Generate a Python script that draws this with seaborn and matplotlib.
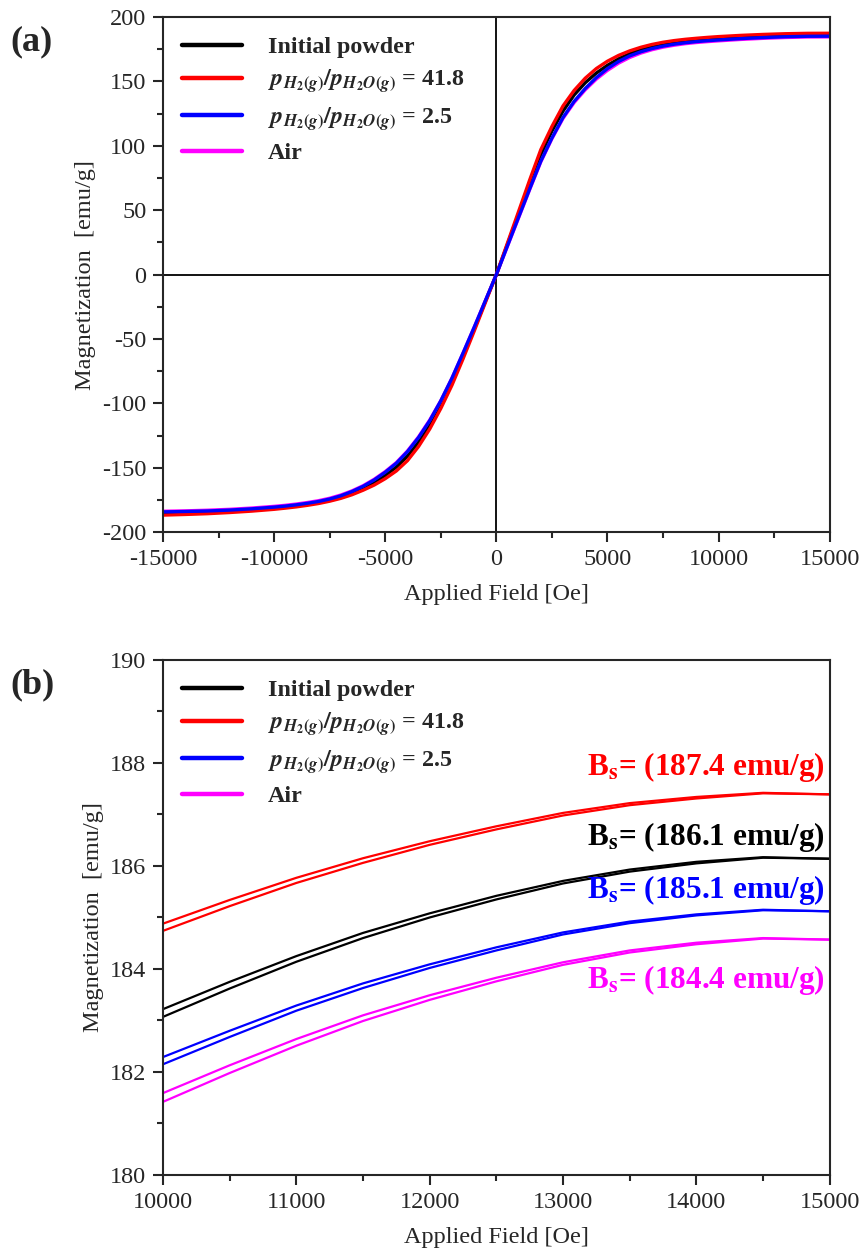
import numpy as np
import pandas as pd
import matplotlib
matplotlib.use("Agg")
import matplotlib.pyplot as plt
from matplotlib.lines import Line2D
from matplotlib.ticker import MultipleLocator
import seaborn as sns

# ---- panel (a): full loop, field in Oe, magnetization in emu/g
H_a = [-15000, -14000, -13000, -12000, -11000, -10000, -9500, -9000, -8500, -8000, -7500, -7000,
       -6500, -6000, -5500, -5000, -4500, -4000, -3500, -3000, -2500, -2000, -1500, -1000, -500,
       0, 500, 1000, 1500, 2000, 2500, 3000, 3500, 4000, 4500, 5000, 5500, 6000, 6500,
       7000, 7500, 8000, 8500, 9000, 9500, 10000, 11000, 12000, 13000, 14000, 15000]
M_init_a = [-185.5, -185.2, -184.7, -183.9, -182.8, -181.4, -180.6, -179.6, -178.4, -177.0, -175.1, -172.8,
            -169.8, -166.0, -161.5, -156.0, -149.5, -141.0, -130.0, -117.0, -101.0, -83.0, -63.0, -42.5, -21.0,
            0.0, 23.5, 47.0, 70.0, 93.0, 111.5, 127.0, 139.5, 149.0, 156.5, 162.5, 167.5, 171.5, 174.5,
            176.6, 178.3, 179.6, 180.75, 181.75, 182.5, 183.15, 184.2, 185.04, 185.69, 186.07, 186.14]
M_418_a = [-186.8, -186.3, -185.7, -184.8, -183.7, -182.3, -181.4, -180.4, -179.2, -177.8, -176.0, -173.8,
           -171.0, -167.5, -163.5, -158.5, -152.5, -144.5, -133.5, -120.0, -104.0, -86.0, -65.5, -44.0, -22.0,
           0.0, 24.5, 49.0, 73.5, 97.0, 115.0, 131.0, 143.0, 152.5, 160.0, 165.7, 170.2, 173.7, 176.5,
           178.7, 180.4, 181.7, 182.7, 183.5, 184.2, 184.8, 185.75, 186.48, 187.03, 187.34, 187.39]
M_25_a = [-184.3, -184.0, -183.6, -182.9, -181.9, -180.6, -179.8, -178.8, -177.6, -176.2, -174.3, -171.8,
          -168.5, -164.5, -159.5, -153.5, -146.5, -137.5, -126.5, -113.5, -98.0, -80.5, -61.0, -41.0, -20.5,
          0.0, 22.3, 44.5, 66.5, 88.0, 106.0, 122.0, 134.5, 144.5, 153.0, 160.0, 165.5, 169.8, 173.0,
          175.5, 177.4, 178.9, 180.0, 180.9, 181.6, 182.2, 183.24, 184.06, 184.69, 185.05, 185.12]
M_air_a = [-183.8, -183.5, -183.0, -182.3, -181.3, -180.0, -179.2, -178.2, -177.0, -175.6, -173.7, -171.2,
           -168.0, -164.0, -159.0, -153.0, -146.0, -137.0, -126.0, -113.0, -98.0, -80.5, -61.0, -41.0, -20.5,
           0.0, 22.0, 44.0, 66.0, 87.5, 105.5, 121.3, 133.6, 143.5, 151.8, 158.6, 164.2, 168.6, 172.0,
           174.6, 176.6, 178.1, 179.3, 180.2, 180.9, 181.5, 182.6, 183.45, 184.1, 184.5, 184.57]

# ---- panel (b): high-field zoom, two branches per sample
H_b = [10000, 10500, 11000, 11500, 12000, 12500, 13000, 13500, 14000, 14500, 15000]
init_up = [183.22, 183.75, 184.25, 184.70, 185.08, 185.42, 185.71, 185.93, 186.08, 186.17, 186.14]
init_dn = [183.07, 183.62, 184.14, 184.60, 185.00, 185.35, 185.66, 185.89, 186.05, 186.16, 186.14]
r418_up = [184.88, 185.34, 185.77, 186.15, 186.48, 186.77, 187.03, 187.22, 187.34, 187.42, 187.39]
r418_dn = [184.74, 185.22, 185.67, 186.06, 186.41, 186.71, 186.98, 187.18, 187.31, 187.41, 187.39]
r25_up = [182.29, 182.80, 183.29, 183.72, 184.09, 184.42, 184.71, 184.92, 185.06, 185.15, 185.12]
r25_dn = [182.15, 182.68, 183.19, 183.63, 184.02, 184.36, 184.67, 184.89, 185.04, 185.14, 185.12]
air_up = [181.59, 182.13, 182.64, 183.10, 183.49, 183.83, 184.13, 184.36, 184.51, 184.60, 184.57]
air_dn = [181.42, 181.98, 182.51, 182.99, 183.40, 183.76, 184.08, 184.32, 184.48, 184.59, 184.57]

samples = ["init", "r418", "r25", "air"]
colors = {"init": "black", "r418": "red", "r25": "blue", "air": "magenta"}
ratio = (r"$\mathbfit{p}_{\mathbfit{H}_{\mathbf{2}}\mathbf{(}\mathbfit{g}\mathbf{)}}"
         r"\mathbf{/}\mathbfit{p}_{\mathbfit{H}_{\mathbf{2}}\mathbfit{O}\mathbf{(}\mathbfit{g}\mathbf{)}}$")
labels = ["Initial powder", ratio + " = 41.8", ratio + " = 2.5", "Air"]
bs_vals = {"r418": 187.4, "init": 186.1, "r25": 185.1, "air": 184.4}
bs_ypos = {"r418": 187.92, "init": 186.57, "r25": 185.53, "air": 183.79}

df_a = pd.concat([
    pd.DataFrame({"H": H_a, "M": M_init_a, "sample": "init"}),
    pd.DataFrame({"H": H_a, "M": M_air_a, "sample": "air"}),
    pd.DataFrame({"H": H_a, "M": M_418_a, "sample": "r418"}),
    pd.DataFrame({"H": H_a, "M": M_25_a, "sample": "r25"}),
])

rows = []
for s, up, dn in [("init", init_up, init_dn), ("r418", r418_up, r418_dn),
                  ("r25", r25_up, r25_dn), ("air", air_up, air_dn)]:
    rows.append(pd.DataFrame({"H": H_b, "M": up, "sample": s, "branch": "up"}))
    rows.append(pd.DataFrame({"H": H_b, "M": dn, "sample": s, "branch": "dn"}))
df_b = pd.concat(rows)

sns.set_style("ticks")
plt.rcParams["font.family"] = ["Liberation Serif", "DejaVu Serif"]
plt.rcParams["mathtext.fontset"] = "stix"
plt.rcParams["axes.unicode_minus"] = False
plt.rcParams["axes.linewidth"] = 1.5

fig = plt.figure(figsize=(8.67, 12.52), dpi=100)
ax1 = fig.add_axes([0.188, 0.575, 0.769, 0.4114])
ax2 = fig.add_axes([0.188, 0.0615, 0.769, 0.4114])

sns.lineplot(data=df_a, x="H", y="M", hue="sample", hue_order=["init", "air", "r418", "r25"],
             palette=colors, estimator=None, lw=2.4, legend=False, ax=ax1)
ax1.axhline(0, color="black", lw=1.3, zorder=0)
ax1.axvline(0, color="black", lw=1.3, zorder=0)
ax1.set_xlim(-15000, 15000)
ax1.set_ylim(-200, 200)
ax1.xaxis.set_major_locator(MultipleLocator(5000))
ax1.xaxis.set_minor_locator(MultipleLocator(2500))
ax1.yaxis.set_major_locator(MultipleLocator(50))
ax1.yaxis.set_minor_locator(MultipleLocator(25))

sns.lineplot(data=df_b, x="H", y="M", hue="sample", units="branch",
             hue_order=["init", "r418", "r25", "air"], palette=colors,
             estimator=None, lw=1.6, legend=False, ax=ax2)
ax2.set_xlim(10000, 15000)
ax2.set_ylim(180, 190)
ax2.xaxis.set_major_locator(MultipleLocator(1000))
ax2.xaxis.set_minor_locator(MultipleLocator(500))
ax2.yaxis.set_major_locator(MultipleLocator(2))
ax2.yaxis.set_minor_locator(MultipleLocator(1))

for s in samples:
    ax2.text(14963, bs_ypos[s], r"B$_\mathbf{s}$= (%.1f emu/g)" % bs_vals[s], color=colors[s],
             ha="right", va="center", fontsize=22.5, fontweight="bold")

handles = [Line2D([], [], color=colors[s], lw=3.2, solid_capstyle="round") for s in samples]
for ax, tag in [(ax1, "(a)"), (ax2, "(b)")]:
    for sp in ax.spines.values():
        sp.set_visible(True)
        sp.set_linewidth(1.5)
    ax.tick_params(which="major", direction="out", length=7, width=1.5, labelsize=17.5, pad=5,
                   top=False, right=False)
    ax.tick_params(which="minor", direction="out", length=4, width=1.5, top=False, right=False)
    ax.set_xlabel("Applied Field [Oe]", fontsize=17.5, labelpad=10)
    ax.set_ylabel("Magnetization  [emu/g]", fontsize=17.5, labelpad=4)
    ax.legend(handles, labels, loc="upper left", bbox_to_anchor=(0.0, 1.0), frameon=False,
              prop={"weight": "bold", "size": 17.3}, handlelength=2.5, handletextpad=1.05,
              labelspacing=0.4, borderaxespad=0.4)
    fig.text(0.012, ax.get_position().y1 - 0.02, tag, fontsize=26, fontweight="bold", va="center")

fig.savefig("out.png", dpi=100)
